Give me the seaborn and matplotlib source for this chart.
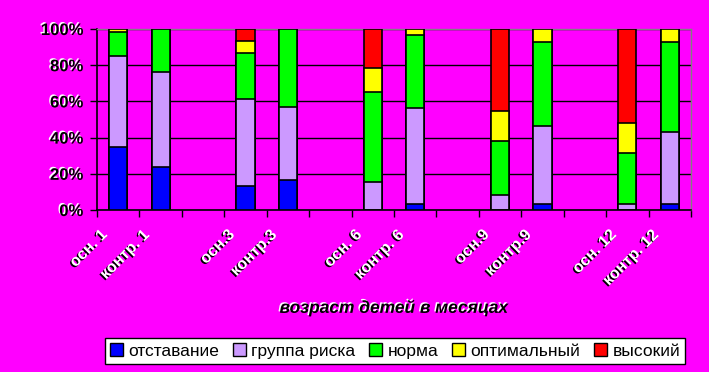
import numpy as np
import pandas as pd
import matplotlib
matplotlib.use("Agg")
import matplotlib.pyplot as plt
import matplotlib.patheffects as pe
from matplotlib.patches import Patch
import seaborn as sns

# --- data (percent of children per group) ---
groups = ["осн. 1", "контр. 1", "осн.3", "контр.3", "осн. 6", "контр. 6",
          "осн.9", "контр.9", "осн. 12", "контр. 12"]
# blank slots between age groups
slots = ["осн. 1", "контр. 1", " ", "осн.3", "контр.3", "  ", "осн. 6", "контр. 6",
         "   ", "осн.9", "контр.9", "    ", "осн. 12", "контр. 12"]

levels = ["отставание", "группа риска", "норма", "оптимальный", "высокий"]
lag = [35, 23.8, 13.3, 16.7, 0, 3.3, 0, 3.3, 0, 3.3]
risk = [50, 52.4, 48.3, 40, 15.5, 53.3, 8.3, 43.1, 3.3, 39.8]
norm = [13.3, 23.8, 25, 43.3, 49.7, 40, 29.8, 46.4, 28.2, 49.7]
optimal = [1.7, 0, 6.7, 0, 13.3, 3.4, 16.6, 7.2, 16.6, 7.2]
high = [0, 0, 6.7, 0, 21.5, 0, 45.3, 0, 51.9, 0]

colors = ["#0000FF", "#CC99FF", "#00FF00", "#FFFF00", "#FF0000"]
BG = "#FF00FF"

df = pd.DataFrame({"group": groups, levels[0]: lag, levels[1]: risk,
                   levels[2]: norm, levels[3]: optimal, levels[4]: high})
cum = df[levels].cumsum(axis=1)

fig = plt.figure(figsize=(7.09, 3.72), dpi=100, facecolor=BG)
ax = fig.add_axes([97 / 709, 1 - 210 / 372, (691 - 97) / 709, (210 - 29) / 372])
ax.set_facecolor(BG)

# stacked bars: draw the tallest cumulative first, smaller ones on top
for lvl, col in zip(levels[::-1], colors[::-1]):
    sns.barplot(x=df["group"], y=cum[lvl], order=slots, color=col, width=0.43,
                edgecolor="black", linewidth=1.2, saturation=1, ax=ax, zorder=3)

ax.set_ylim(0, 100)
ax.set_xlim(-0.5, len(slots) - 0.5)
ax.set_yticks(np.arange(0, 101, 20))
ax.set_yticklabels([f"{v}%" for v in range(0, 101, 20)])
ax.yaxis.grid(True, color="black", linewidth=1, zorder=0)
ax.set_axisbelow(True)

# x ticks at the slot borders, labels at the centres
ax.set_xticks(np.arange(-0.5, len(slots), 1))
ax.set_xticklabels([])
ax.set_xticks(np.arange(len(slots)), minor=True)
ax.set_xticklabels([s.strip() for s in slots], minor=True)
ax.tick_params(axis="x", which="major", length=5, color="black", width=1)
ax.tick_params(axis="x", which="minor", length=0, pad=12)
ax.tick_params(axis="y", length=5, color="black", width=1, pad=5)

for side in ["left", "bottom"]:
    ax.spines[side].set_color("black")
    ax.spines[side].set_linewidth(1.2)
for side in ["top", "right"]:
    ax.spines[side].set_color("#808080")
    ax.spines[side].set_linewidth(1)

ax.set_xlabel("")
ax.set_ylabel("")

shadow_black = [pe.SimplePatchShadow(offset=(-1, -1), shadow_rgbFace="black", alpha=1), pe.Normal()]
shadow_white = [pe.SimplePatchShadow(offset=(-1, 1), shadow_rgbFace="white", alpha=1), pe.Normal()]

for lab in ax.get_yticklabels():
    lab.set_fontfamily("Liberation Sans")
    lab.set_fontweight("bold")
    lab.set_fontsize(12)
    lab.set_color("black")
    lab.set_path_effects(shadow_white)

offset = matplotlib.transforms.ScaledTranslation(-8 / 100, 0, fig.dpi_scale_trans)
for lab in ax.get_xticklabels(minor=True):
    lab.set_fontfamily("Liberation Sans")
    lab.set_fontweight("bold")
    lab.set_fontsize(11.5)
    lab.set_color("white")
    lab.set_rotation(45)
    lab.set_ha("right")
    lab.set_va("top")
    lab.set_transform(lab.get_transform() + offset)
    lab.set_path_effects(shadow_black)

fig.text(394 / 709, 1 - 308 / 372, "возраст детей в месяцах", ha="center", va="center",
         fontsize=12.5, fontstyle="italic", fontweight="bold", family="Liberation Sans",
         color="black", path_effects=shadow_white)

handles = [Patch(facecolor=c, edgecolor="black", linewidth=1) for c in colors]
leg = fig.legend(handles, levels, loc="center", bbox_to_anchor=(395 / 709, 1 - 351 / 372),
                 ncol=5, frameon=True, fancybox=False, edgecolor="black", facecolor="white",
                 framealpha=1, handlelength=0.75, handleheight=0.75, handletextpad=0.3,
                 columnspacing=0.8, borderpad=0.3,
                 prop={"family": "Liberation Sans", "size": 12.5})
leg.get_frame().set_linewidth(1)

fig.savefig("out.png", dpi=100, facecolor=BG)
